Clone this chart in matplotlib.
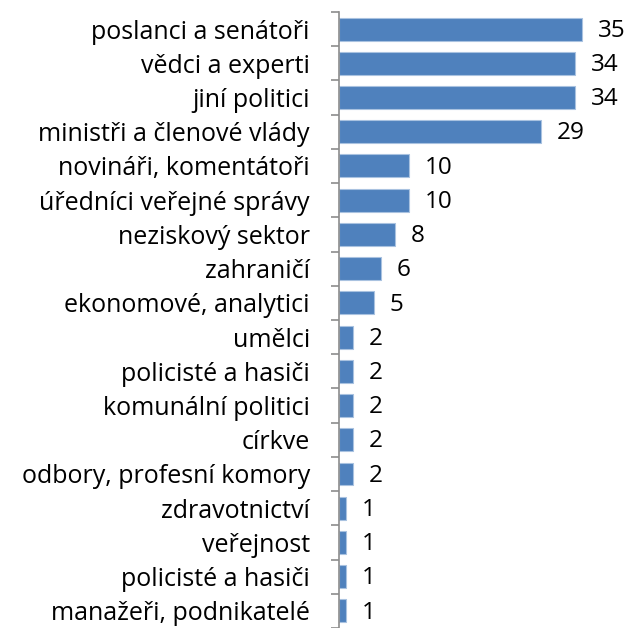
import matplotlib as mpl
import matplotlib.pyplot as plt
import numpy as np

mpl.rcParams["font.family"] = ["Open Sans", "DejaVu Sans"]

categories = ["poslanci a senátoři", "vědci a experti", "jiní politici",
              "ministři a členové vlády", "novináři, komentátoři",
              "úředníci veřejné správy", "neziskový sektor", "zahraničí",
              "ekonomové, analytici", "umělci", "policisté a hasiči",
              "komunální politici", "církve", "odbory, profesní komory",
              "zdravotnictví", "veřejnost", "policisté a hasiči",
              "manažeři, podnikatelé"]
values = [35, 34, 34, 29, 10, 10, 8, 6, 5, 2, 2, 2, 2, 2, 1, 1, 1, 1]

fig = plt.figure(figsize=(6.26, 6.28), dpi=100)
ax = fig.add_axes([0.5415, 0.0, 0.45, 0.981])

pos = np.arange(len(categories))
ax.barh(pos, values, height=0.67, color="#4f81bd",
        edgecolor="#a9c2e0", linewidth=0.8)

for p, v in zip(pos, values):
    ax.text(v + 2.3, p + 0.05, str(v), va="center", ha="left", fontsize=17.5)

ax.set_ylim(len(categories) - 0.5, -0.5)
ax.set_xlim(0, 282 / 6.96)

# labels at bar centres, ticks between categories
ax.set_yticks(pos)
ax.set_yticklabels(categories, fontsize=18)
ax.tick_params(axis="y", which="major", length=0, pad=21)
ax.set_yticks(np.arange(len(categories) + 1) - 0.5, minor=True)
ax.tick_params(axis="y", which="minor", length=6, width=1.2, color="#8c8c8c",
               direction="out")
ax.set_xticks([])

for side in ["top", "right", "bottom"]:
    ax.spines[side].set_visible(False)
ax.spines["left"].set_color("#8c8c8c")
ax.spines["left"].set_linewidth(1.2)

fig.savefig("out.png", dpi=100)
